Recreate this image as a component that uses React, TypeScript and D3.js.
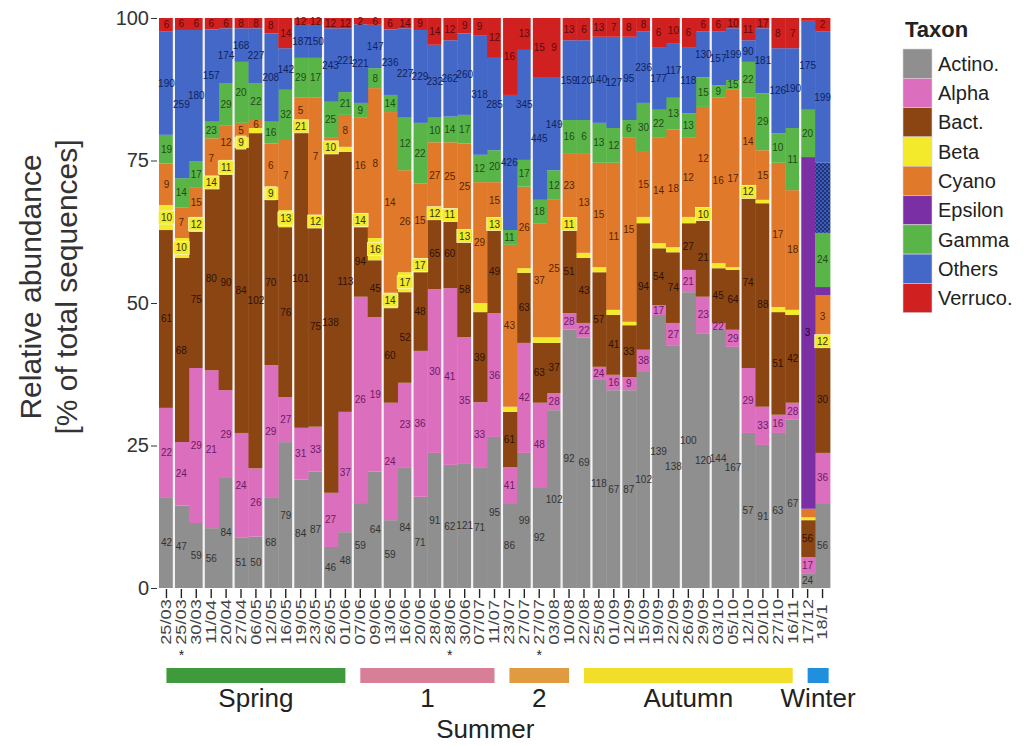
import React, { useEffect, useRef } from "react";
import * as d3 from "d3";

// sampling dates (one stacked bar each)
const dates = [
  "25/03", "25/03", "30/03", "11/04", "20/04", "27/04", "06/05", "12/05", "16/05", "19/05",
  "23/05", "26/05", "01/06", "07/06", "09/06", "13/06", "16/06", "20/06", "28/06", "28/06",
  "30/06", "07/07", "11/07", "23/07", "27/07", "27/07", "03/08", "10/08", "22/08", "25/08",
  "01/09", "12/09", "15/09", "19/09", "22/09", "26/09", "29/09", "03/10", "05/10", "12/10",
  "20/10", "27/10", "16/11", "17/12", "18/1",
];
const markedDates = [1, 19, 25];

// relative abundance (% of total sequences), bottom to top
const actino = [15.8, 14.5, 11.4, 10.5, 19.3, 8.8, 9.0, 15.8, 25.6, 19.0, 20.4, 7.2, 9.8, 14.9, 20.4, 11.9, 21.2, 16.0, 23.7, 21.6, 21.9, 21.2, 26.5, 14.9, 23.7, 17.7, 31.2, 45.3, 43.9, 36.5, 34.7, 34.7, 37.9, 47.9, 42.6, 51.9, 44.7, 45.3, 42.3, 27.2, 25.1, 27.2, 29.5, 2.6, 14.9];
const alpha = [15.8, 11.1, 27.2, 27.7, 15.4, 18.4, 12.0, 23.3, 7.9, 9.1, 7.9, 9.5, 21.1, 36.2, 27.1, 20.6, 14.8, 25.6, 28.7, 31.0, 22.1, 11.4, 21.7, 6.3, 19.3, 14.8, 3.0, 2.9, 2.6, 2.3, 2.7, 2.3, 3.9, 1.7, 3.9, 3.9, 6.4, 1.2, 3.0, 11.4, 6.7, 3.2, 3.0, 2.8, 8.8];
const bact = [31.2, 32.3, 23.9, 32.2, 37.8, 50.0, 58.8, 29.0, 29.8, 52.3, 35.0, 59.9, 45.6, 12.2, 10.0, 16.6, 15.9, 13.8, 12.5, 12.0, 16.7, 15.8, 14.6, 9.7, 12.3, 10.5, 8.8, 14.6, 11.4, 16.6, 10.5, 9.1, 22.2, 10.0, 12.4, 8.2, 13.8, 9.6, 10.5, 30.0, 35.7, 18.0, 15.4, 6.5, 18.9];
const beta = [4.4, 3.5, 2.6, 1.5, 2.6, 1.9, 0.9, 2.3, 3.0, 1.2, 2.0, 1.4, 0.9, 2.5, 3.9, 2.7, 3.5, 2.5, 1.7, 1.7, 2.1, 1.6, 2.1, 0.9, 0.8, 1.0, 1.0, 2.1, 0.9, 0.9, 0.9, 0.6, 1.1, 0.9, 0.9, 1.1, 1.4, 0.9, 0.5, 1.8, 0.6, 0.9, 0.9, 0.5, 1.4];
const cyano = [7.3, 5.4, 5.1, 7.0, 6.1, 2.5, 1.4, 7.6, 12.3, 4.5, 20.8, 1.1, 5.6, 16.8, 26.3, 31.7, 17.9, 13.1, 11.6, 11.9, 15.2, 21.2, 6.3, 28.4, 14.3, 20.0, 24.1, 11.4, 17.5, 18.3, 25.8, 32.4, 11.4, 18.6, 20.6, 14.0, 18.1, 29.1, 31.1, 15.7, 8.7, 25.3, 21.0, 1.5, 7.4];
const epsilon = [0, 0, 0, 0, 0, 0, 0, 0, 0, 0, 0, 0, 0, 0, 0, 0, 0, 0, 0, 0, 0, 0, 0, 0, 0, 0, 0, 0, 0, 0, 0, 0, 0, 0, 0, 0, 0, 0, 0, 0, 0, 0, 0, 61.7, 1.4];
const gamma = [5.0, 5.1, 4.6, 2.9, 7.4, 10.7, 6.5, 3.8, 8.8, 6.9, 6.9, 6.2, 4.0, 2.5, 3.5, 3.0, 9.2, 10.6, 4.3, 4.5, 5.0, 4.8, 5.6, 2.6, 4.7, 4.1, 5.2, 5.8, 5.8, 7.0, 6.1, 3.0, 8.6, 4.8, 5.6, 4.2, 5.2, 2.1, 1.7, 6.2, 10.0, 5.2, 10.9, 8.3, 9.5];
const othersHatched = [0, 0, 0, 0, 0, 0, 0, 0, 0, 0, 0, 0, 0, 0, 0, 0, 0, 0, 0, 0, 0, 0, 0, 0, 0, 0, 0, 0, 0, 0, 0, 0, 0, 0, 0, 0, 0, 0, 0, 0, 0, 0, 0, 0, 12.3];
const others = [18.1, 26.0, 23.1, 16.2, 9.6, 5.9, 9.6, 15.5, 7.3, 5.8, 5.8, 12.9, 11.2, 13.8, 7.6, 11.5, 15.7, 16.3, 12.8, 13.4, 14.3, 21.0, 16.2, 23.7, 19.3, 21.4, 16.2, 14.0, 14.0, 15.1, 16.0, 14.6, 12.5, 11.0, 9.6, 11.6, 8.0, 9.4, 9.1, 3.8, 11.4, 14.9, 14.0, 15.6, 23.0];
const verruco = [2.4, 2.1, 2.1, 2.0, 1.8, 1.8, 1.8, 2.7, 5.3, 1.2, 1.2, 1.8, 1.8, 1.1, 1.2, 2.0, 1.8, 2.1, 4.7, 3.9, 2.7, 3.0, 7.0, 13.5, 5.6, 10.5, 10.5, 3.9, 3.9, 3.3, 3.3, 3.3, 2.4, 5.1, 4.4, 5.1, 2.4, 2.4, 1.8, 3.9, 1.8, 5.3, 5.3, 0.5, 2.4];

// number printed inside each segment (null = none)
const actinoLab = [42, 47, 59, 56, 84, 51, 50, 68, 79, 84, 87, 46, 48, 59, 64, 59, 84, 71, 91, 62, 121, 71, 95, 86, 99, 92, 102, 92, 69, 118, 67, 87, 102, 139, 138, 100, 120, 144, 167, 57, 91, 63, 67, 24, 56];
const alphaLab = [22, 24, 29, 21, 29, 24, 26, 29, 27, 31, 33, 27, 37, 26, 19, 24, 23, 36, 30, 41, 35, 33, 36, 41, 42, 48, 28, 28, 22, 24, 16, 9, 38, 17, 27, 21, 23, 22, 29, 29, 33, 16, 28, 17, 36];
const bactLab = [61, 68, 75, 80, 90, 84, 102, 70, 76, 101, 75, 138, 113, 94, 45, 60, 52, 48, 65, 60, 58, 39, 49, 61, 63, 63, 37, 51, 43, 57, 41, 33, 94, 54, 74, 27, 21, 45, 64, 74, 88, 51, 42, 56, 30];
const betaLab = [10, 10, 12, 14, 11, 9, null, 9, 13, 21, 12, 10, null, 14, 16, 14, 17, 17, 12, 11, 13, null, 13, null, null, null, null, 11, null, null, null, null, null, null, null, null, 10, null, null, 12, null, null, null, null, 12];
const cyanoLab = [9, 7, 15, 7, 12, 5, 6, 6, 7, 5, 7, null, 8, 16, 8, 14, 26, 15, 27, 25, 25, 29, 15, 43, 26, 37, 25, 23, 13, 15, 11, 15, 15, 14, 18, 12, 12, 16, 17, 14, 15, 17, 18, null, 3];
const epsilonLab = [null, null, null, null, null, null, null, null, null, null, null, null, null, null, null, null, null, null, null, null, null, null, null, null, null, null, null, null, null, null, null, null, null, null, null, null, null, null, null, null, null, null, null, 3, null];
const gammaLab = [19, 14, 17, 23, 29, 20, 22, 16, 32, 29, 17, 25, 21, 9, 8, 14, 12, 22, 10, 14, 17, 12, 20, 11, 17, 18, 12, 16, 6, 13, 12, 6, 30, 22, 13, 13, 15, 9, 15, 22, 29, 10, 11, 20, 24];
const othersLab = [190, 259, 180, 157, 174, 168, 227, 208, 142, 187, 150, 243, 221, 221, 147, 236, 227, 229, 232, 262, 260, 318, 285, 426, 345, 445, 149, 159, 120, 140, 127, 95, 236, 177, 117, 118, 130, 157, 199, 90, 181, 126, 190, 175, 199];
const verrucoLab = [6, 6, 6, 6, 6, 8, 8, 8, 14, 12, 12, 12, 12, 2, 6, 6, 14, 9, 14, 12, 9, 9, 12, 16, 13, 15, 9, 13, 6, 13, 7, 8, 8, 6, 10, 6, 6, 6, 10, 11, 17, 8, 7, null, 2];

const taxa = ["Actino.", "Alpha", "Bact.", "Beta", "Cyano", "Epsilon", "Gamma", "Others", "Verruco."];
const taxonColors = ["#8f8f8f", "#dc6ebe", "#8b4513", "#f2ea2a", "#e07a2a", "#7b2fa5", "#5ab548", "#4468c8", "#d02020"];
const labelColors = ["#333333", "#6d1a66", "#2e1205", "#333310", "#5a2400", "#1a0a3a", "#1f4d14", "#0f235e", "#5e0a0a"];

const seasons = ["Spring", "1", "2", "Autumn", "Winter"];
const seasonFirst = [0, 13, 23, 28, 43];
const seasonLast = [12, 22, 27, 42, 44];
const seasonColors = ["#3f9a3c", "#d87f98", "#e09a40", "#f0de2a", "#1f8fde"];

const FONT = "'Liberation Sans', Arial, Helvetica, sans-serif";

const App = () => {
  const chartRef = useRef<SVGSVGElement>(null);

  useEffect(() => {
    const svg = d3.select(chartRef.current);
    svg.selectAll("*").remove();
    svg.style("font-family", FONT);

    const x = d3.scaleBand<number>().domain(d3.range(dates.length)).range([159, 830]).padding(0);
    const y = d3.scaleLinear().domain([0, 100]).range([588, 18]);
    const cx = (i: number) => (x(i) as number) + x.bandwidth() / 2;

    // stack keys: the hatched block is a part of Others in the last sample
    const keys = ["actino", "alpha", "bact", "beta", "cyano", "epsilon", "gamma", "hatched", "others", "verruco"];
    const series = [actino, alpha, bact, beta, cyano, epsilon, gamma, othersHatched, others, verruco];
    const labels = [actinoLab, alphaLab, bactLab, betaLab, cyanoLab, epsilonLab, gammaLab, null, othersLab, verrucoLab];
    const keyColor = (k: number) => (k < 7 ? taxonColors[k] : k === 7 ? "url(#hatch)" : taxonColors[k - 1]);
    const keyLabelColor = (k: number) => (k < 7 ? labelColors[k] : labelColors[k - 1]);

    const rows = dates.map((d, i) => {
      const r: any = { i };
      keys.forEach((k, j) => (r[k] = series[j][i]));
      return r;
    });
    const stacked = d3.stack<any>().keys(keys)(rows);

    const defs = svg.append("defs");
    const pat = defs
      .append("pattern")
      .attr("id", "hatch")
      .attr("width", 4)
      .attr("height", 4)
      .attr("patternUnits", "userSpaceOnUse");
    pat.append("rect").attr("width", 4).attr("height", 4).attr("fill", "#3d5cba");
    pat.append("circle").attr("cx", 1).attr("cy", 1).attr("r", 1).attr("fill", "#17265f");
    pat.append("circle").attr("cx", 3).attr("cy", 3).attr("r", 1).attr("fill", "#17265f");

    // bars
    svg
      .append("g")
      .selectAll("g")
      .data(stacked)
      .enter()
      .append("g")
      .attr("fill", (d, k) => keyColor(k))
      .selectAll("rect")
      .data((d) => d)
      .enter()
      .append("rect")
      .attr("x", (d) => x(d.data.i) as number)
      .attr("width", x.bandwidth() + 0.4)
      .attr("y", (d) => y(d[1]))
      .attr("height", (d) => Math.max(0, y(d[0]) - y(d[1])));

    // white separators between sample pairs
    svg
      .append("g")
      .selectAll("line")
      .data(dates.map((d, i) => i).filter((i) => i % 2 === 1))
      .enter()
      .append("line")
      .attr("x1", (i) => x(i) as number)
      .attr("x2", (i) => x(i) as number)
      .attr("y1", y(100))
      .attr("y2", y(0))
      .attr("stroke", "#f3f3f3")
      .attr("stroke-width", 2.2);

    // numbers inside the segments
    const lab = svg.append("g").style("font-size", "10px");
    stacked.forEach((s, k) => {
      const l = labels[k];
      if (!l) return;
      s.forEach((d, i) => {
        if (l[i] == null) return;
        const yc = (y(d[0]) + y(d[1])) / 2;
        if (keys[k] === "beta") {
          const w = String(l[i]).length * 5.8 + 4;
          lab
            .append("rect")
            .attr("x", cx(i) - w / 2)
            .attr("y", yc - 6.5)
            .attr("width", w)
            .attr("height", 13)
            .attr("fill", "#f2ea2a")
            .attr("stroke", "#fbf7c0")
            .attr("stroke-width", 0.8);
        }
        lab
          .append("text")
          .attr("x", cx(i))
          .attr("y", yc)
          .attr("dy", "0.35em")
          .attr("text-anchor", "middle")
          .attr("fill", keyLabelColor(k))
          .text(l[i]);
      });
    });

    // y axis
    const yAxis = svg
      .append("g")
      .attr("transform", "translate(157,0)")
      .call(d3.axisLeft(y).tickValues([0, 25, 50, 75, 100]).tickSize(6).tickPadding(2));
    yAxis.select(".domain").remove();
    yAxis.selectAll("line").attr("stroke", "#333");
    yAxis.selectAll("text").style("font-size", "20px").style("font-family", FONT).attr("fill", "#333");

    svg
      .append("text")
      .attr("transform", "translate(41,287) rotate(-90)")
      .attr("text-anchor", "middle")
      .style("font-size", "30px")
      .attr("fill", "#333")
      .text("Relative abundance");
    svg
      .append("text")
      .attr("transform", "translate(77,287) rotate(-90)")
      .attr("text-anchor", "middle")
      .style("font-size", "30px")
      .attr("fill", "#333")
      .text("[% of total sequences]");

    // x axis with rotated dates
    const xAxis = svg
      .append("g")
      .attr("transform", "translate(0,589)")
      .call(d3.axisBottom(x).tickSize(9).tickFormat((i) => dates[i as number]));
    xAxis.select(".domain").remove();
    xAxis.selectAll("line").attr("stroke", "#222").attr("stroke-width", 1.4);
    xAxis
      .selectAll("text")
      .attr("y", 0)
      .attr("dy", "0.35em")
      .attr("transform", "translate(0,33) rotate(-90) scale(1.3,1)")
      .attr("text-anchor", "middle")
      .style("font-size", "14px")
      .style("font-family", FONT)
      .attr("fill", "#444");

    svg
      .append("g")
      .selectAll("text")
      .data(markedDates)
      .enter()
      .append("text")
      .attr("x", (i) => cx(i))
      .attr("y", 660)
      .attr("text-anchor", "middle")
      .style("font-size", "14px")
      .attr("fill", "#222")
      .text("*");

    // season bars
    const sg = svg.append("g");
    seasons.forEach((name, j) => {
      const x1 = cx(seasonFirst[j]);
      const x2 = Math.max(cx(seasonLast[j]), x1 + 21);
      sg.append("rect").attr("x", x1).attr("y", 668).attr("width", x2 - x1).attr("height", 15).attr("fill", seasonColors[j]);
      sg.append("text")
        .attr("x", (x1 + x2) / 2)
        .attr("y", 707)
        .attr("text-anchor", "middle")
        .style("font-size", "26px")
        .attr("fill", "#222")
        .text(name);
    });
    sg.append("text")
      .attr("x", (cx(seasonFirst[1]) + cx(seasonLast[1]) + cx(seasonFirst[2]) + cx(seasonLast[2])) / 4 + 2)
      .attr("y", 738)
      .attr("text-anchor", "middle")
      .style("font-size", "26px")
      .attr("fill", "#222")
      .text("Summer");

    // legend
    const lg = svg.append("g").attr("transform", "translate(903,0)");
    lg.append("text").attr("x", 2).attr("y", 37).style("font-size", "22px").style("font-weight", "bold").attr("fill", "#222").text("Taxon");
    taxa.forEach((t, j) => {
      const y0 = 49 + j * 29.3;
      lg.append("rect").attr("x", 0).attr("y", y0).attr("width", 29).attr("height", 29.3).attr("fill", taxonColors[j]).attr("stroke", "#d8d8d8").attr("stroke-width", 0.6);
      lg.append("text").attr("x", 35).attr("y", y0 + 14.6).attr("dy", "0.36em").style("font-size", "20px").attr("fill", "#222").text(t);
    });
  }, []);

  return <svg ref={chartRef} width={1024} height={746} style={{ position: "absolute", left: 0, top: 0 }}></svg>;
};

export default App;
